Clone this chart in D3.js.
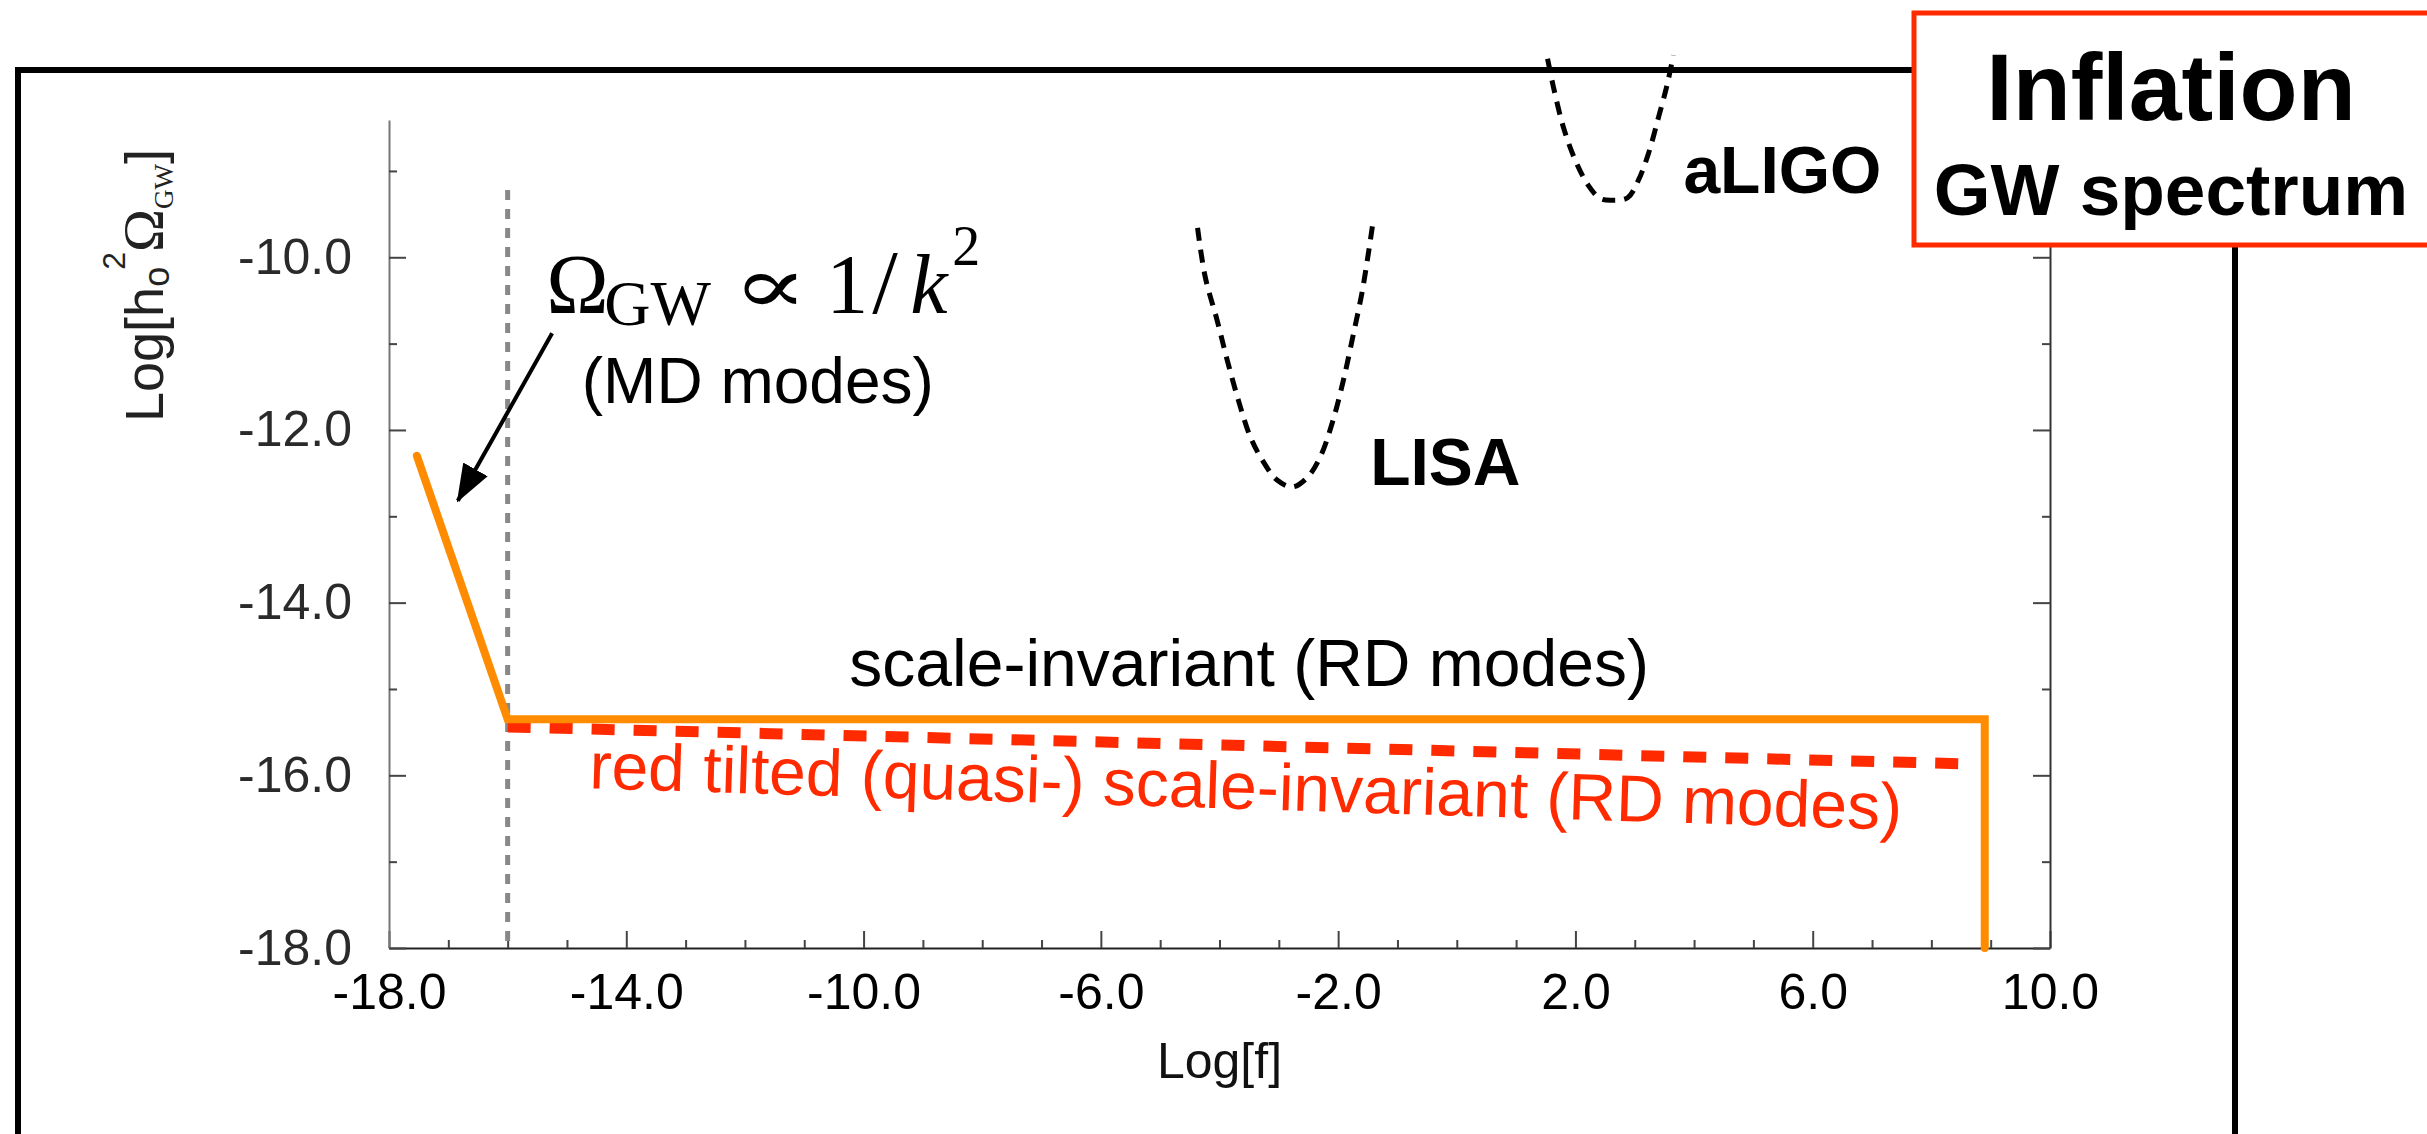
<!DOCTYPE html>
<html>
<head>
<meta charset="utf-8">
<script src="https://cdn.jsdelivr.net/npm/d3@7"></script>
<style>
  html, body { margin: 0; padding: 0; background: #fff; }
  svg { display: block; }
</style>
</head>
<body>
<svg id="chart" width="2427" height="1134"></svg>
<script>
// orange spectrum: MD tail, flat RD plateau, then the cut-off
const spectrumX = [-17.53, -16.0, 8.9, 8.9];
const spectrumY = [-12.3, -15.35, -15.35, -18.0];

// red tilted (quasi-) scale-invariant spectrum
const tiltedX = [-16.0, 8.75];
const tiltedY = [-15.44, -15.87];

// grey dashed marker at log f = -16
const equalityX = [-16.0, -16.0];
const equalityY = [-9.22, -18.0];

// LISA sensitivity curve
const lisaX = [-4.37, -4.24, -4.04, -3.87, -3.68, -3.48, -3.26, -3.03, -2.77, -2.52, -2.30, -2.10, -1.91, -1.74, -1.59, -1.42];
const lisaY = [-9.66, -10.23, -10.73, -11.19, -11.66, -12.08, -12.37, -12.58, -12.66, -12.55, -12.31, -11.92, -11.42, -10.88, -10.38, -9.63];

// aLIGO sensitivity curve
const aligoX = [1.53, 1.63, 1.80, 2.00, 2.22, 2.42, 2.62, 2.88, 3.06, 3.23, 3.40, 3.55, 3.65];
const aligoY = [-7.70, -8.03, -8.50, -8.88, -9.17, -9.32, -9.34, -9.31, -9.11, -8.80, -8.38, -7.99, -7.66];

// axes
const xDomain = [-18, 10];
const yDomain = [-18, -8.41];
const xMajorTicks = [-18, -14, -10, -6, -2, 2, 6, 10];
const xMinorTicks = [-17, -16, -15, -13, -12, -11, -9, -8, -7, -5, -4, -3, -1, 0, 1, 3, 4, 5, 7, 8, 9];
const yMajorTicks = [-18, -16, -14, -12, -10];
const yMinorTicks = [-17, -15, -13, -11, -9];

const sans = "'Liberation Sans', Arial, Helvetica, sans-serif";
const serif = "'Liberation Serif', 'DejaVu Serif', serif";
const ORANGE = "#ff8c00";
const RED = "#ff2a00";

// plot box
const plotLeft = 389, plotRight = 2050, plotTop = 120, plotBottom = 948;

const svg = d3.select("#chart");
svg.append("rect").attr("width", 2427).attr("height", 1134).attr("fill", "#fff");

let x = d3.scaleLinear().domain(xDomain).range([plotLeft, plotRight]);
let y = d3.scaleLinear().domain(yDomain).range([plotBottom, plotTop]);

// slide frame
svg.append("rect")
  .attr("x", 18).attr("y", 70)
  .attr("width", 2217).attr("height", 1200)
  .attr("fill", "none").attr("stroke", "#000").attr("stroke-width", 6);

// x axis, major ticks with labels
let gx = svg.append("g")
  .attr("transform", "translate(0," + plotBottom + ")")
  .call(d3.axisBottom(x).tickValues(xMajorTicks)
    .tickSizeInner(-17).tickSizeOuter(0).tickPadding(25)
    .tickFormat(d => d.toFixed(1)));
gx.attr("font-size", 50).attr("font-family", sans);
gx.select(".domain").attr("stroke", "#222").attr("stroke-width", 2);
gx.selectAll(".tick line").attr("stroke", "#444").attr("stroke-width", 2);
gx.selectAll(".tick text").attr("fill", "#000");

// x minor ticks
let gxm = svg.append("g")
  .attr("transform", "translate(0," + plotBottom + ")")
  .call(d3.axisBottom(x).tickValues(xMinorTicks)
    .tickSizeInner(-8).tickSizeOuter(0).tickFormat(() => ""));
gxm.select(".domain").remove();
gxm.selectAll(".tick line").attr("stroke", "#444").attr("stroke-width", 2);

// y axis
let gy = svg.append("g")
  .attr("transform", "translate(" + plotLeft + ",0)")
  .call(d3.axisLeft(y).tickValues(yMajorTicks)
    .tickSizeInner(-17).tickSizeOuter(0).tickPadding(37)
    .tickFormat(d => d.toFixed(1)));
gy.attr("font-size", 50).attr("font-family", sans);
gy.select(".domain").attr("stroke", "#777").attr("stroke-width", 2);
gy.selectAll(".tick line").attr("stroke", "#444").attr("stroke-width", 2);
gy.selectAll(".tick text").attr("fill", "#2a2a2a");

let gym = svg.append("g")
  .attr("transform", "translate(" + plotLeft + ",0)")
  .call(d3.axisLeft(y).tickValues(yMinorTicks)
    .tickSizeInner(-8).tickSizeOuter(0).tickFormat(() => ""));
gym.select(".domain").remove();
gym.selectAll(".tick line").attr("stroke", "#444").attr("stroke-width", 2);

// mirrored right axis, no labels
let gr = svg.append("g")
  .attr("transform", "translate(" + plotRight + ",0)")
  .call(d3.axisRight(y).tickValues(yMajorTicks)
    .tickSizeInner(-17).tickSizeOuter(0).tickFormat(() => ""));
gr.select(".domain").attr("stroke", "#333").attr("stroke-width", 2);
gr.selectAll(".tick line").attr("stroke", "#444").attr("stroke-width", 2);
let grm = svg.append("g")
  .attr("transform", "translate(" + plotRight + ",0)")
  .call(d3.axisRight(y).tickValues(yMinorTicks)
    .tickSizeInner(-8).tickSizeOuter(0).tickFormat(() => ""));
grm.select(".domain").remove();
grm.selectAll(".tick line").attr("stroke", "#444").attr("stroke-width", 2);

// axis titles
svg.append("text")
  .attr("x", (plotLeft + plotRight) / 2).attr("y", plotBottom + 130)
  .attr("text-anchor", "middle")
  .attr("font-family", sans).attr("font-size", 50).attr("fill", "#111")
  .text("Log[f]");

let yt = svg.append("text")
  .attr("transform", "translate(163,422) rotate(-90)")
  .attr("font-family", sans).attr("font-size", 54).attr("fill", "#222");
yt.append("tspan").text("Log[h");
yt.append("tspan").attr("font-size", 36).attr("dy", 6).text("o");
yt.append("tspan").attr("font-size", 32).attr("dy", -44).attr("dx", -3).text("2");
yt.append("tspan").attr("font-family", serif).attr("font-size", 58).attr("dy", 38).text("Ω");
yt.append("tspan").attr("font-family", serif).attr("font-size", 27).attr("dy", 10).text("GW");
yt.append("tspan").attr("dy", -10).text("]");

const line = d3.line().x(d => x(d[0])).y(d => y(d[1]));

// grey dashed vertical
svg.append("path")
  .datum(d3.zip(equalityX, equalityY))
  .attr("d", line)
  .attr("fill", "none").attr("stroke", "#888").attr("stroke-width", 5)
  .attr("stroke-dasharray", "10,9");

// red tilted spectrum
svg.append("path")
  .datum(d3.zip(tiltedX, tiltedY))
  .attr("d", line)
  .attr("fill", "none").attr("stroke", RED).attr("stroke-width", 11)
  .attr("stroke-dasharray", "23,19");

// orange spectrum
svg.append("path")
  .datum(d3.zip(spectrumX, spectrumY))
  .attr("d", line)
  .attr("fill", "none").attr("stroke", ORANGE).attr("stroke-width", 8)
  .attr("stroke-linecap", "round").attr("stroke-linejoin", "miter");

// detector sensitivity curves
const curve = d3.line().curve(d3.curveCatmullRom.alpha(0.5))
  .x(d => x(d[0])).y(d => y(d[1]));
[[lisaX, lisaY], [aligoX, aligoY]].forEach(function (c) {
  svg.append("path")
    .datum(d3.zip(c[0], c[1]))
    .attr("d", curve)
    .attr("fill", "none").attr("stroke", "#000").attr("stroke-width", 5)
    .attr("stroke-dasharray", "13,9");
});

svg.append("text")
  .attr("x", x(-1.46)).attr("y", y(-12.64))
  .attr("font-family", sans).attr("font-weight", "bold").attr("font-size", 66)
  .text("LISA");
svg.append("text")
  .attr("x", x(3.82)).attr("y", y(-9.25))
  .attr("font-family", sans).attr("font-weight", "bold").attr("font-size", 66)
  .text("aLIGO");

// curve labels
svg.append("text")
  .attr("x", x(-10.24)).attr("y", y(-14.97))
  .attr("font-family", sans).attr("font-size", 66).attr("fill", "#000")
  .text("scale-invariant (RD modes)");

svg.append("text")
  .attr("transform", "translate(" + x(-14.63) + "," + y(-16.15) + ") rotate(1.81)")
  .attr("font-family", sans).attr("font-size", 66).attr("fill", RED)
  .text("red tilted (quasi-) scale-invariant (RD modes)");

// MD annotation, pieces placed one by one like the typeset formula
const fx = x(-15.35), fy = y(-10.64);
let fm = svg.append("text")
  .attr("font-family", serif).attr("font-size", 84).attr("fill", "#000");
fm.append("tspan").attr("x", fx).attr("y", fy).text("Ω");
fm.append("tspan").attr("x", fx + 58).attr("y", fy + 12).attr("font-size", 64).text("GW");
fm.append("tspan").attr("x", fx + 280).attr("y", fy).text("1");
fm.append("tspan").attr("x", fx + 326).attr("y", fy).attr("font-size", 92).text("/");
fm.append("tspan").attr("x", fx + 364).attr("y", fy).attr("font-style", "italic").text("k");
fm.append("tspan").attr("x", fx + 406).attr("y", fy - 48).attr("font-size", 56).text("2");
// the proportional sign is wider in the typeset original, stretch it a bit
svg.append("text")
  .attr("transform", "translate(" + (fx + 224) + "," + fy + ") scale(1.4,1)")
  .attr("text-anchor", "middle")
  .attr("font-family", "'DejaVu Serif', serif").attr("font-size", 80).attr("fill", "#000")
  .text("∝");

svg.append("text")
  .attr("x", x(-14.75)).attr("y", y(-11.69))
  .attr("font-family", sans).attr("font-size", 64).attr("fill", "#000")
  .text("(MD modes)");

svg.append("defs").append("marker")
  .attr("id", "head")
  .attr("markerUnits", "userSpaceOnUse")
  .attr("markerWidth", 38).attr("markerHeight", 28)
  .attr("refX", 36).attr("refY", 14)
  .attr("orient", "auto")
  .append("path").attr("d", "M0,0 L38,14 L0,28 Z").attr("fill", "#000");

svg.append("line")
  .attr("x1", x(-15.25)).attr("y1", y(-10.88))
  .attr("x2", x(-16.84)).attr("y2", y(-12.82))
  .attr("stroke", "#000").attr("stroke-width", 4)
  .attr("marker-end", "url(#head)");

// title box
svg.append("rect")
  .attr("x", 1914).attr("y", 13).attr("width", 600).attr("height", 232)
  .attr("fill", "#fff").attr("stroke", RED).attr("stroke-width", 5);
svg.append("text")
  .attr("x", 2171).attr("y", 120).attr("text-anchor", "middle")
  .attr("font-family", sans).attr("font-weight", "bold").attr("font-size", 95)
  .text("Inflation");
svg.append("text")
  .attr("x", 2171).attr("y", 215).attr("text-anchor", "middle")
  .attr("font-family", sans).attr("font-weight", "bold").attr("font-size", 73)
  .text("GW spectrum");
</script>
</body>
</html>
